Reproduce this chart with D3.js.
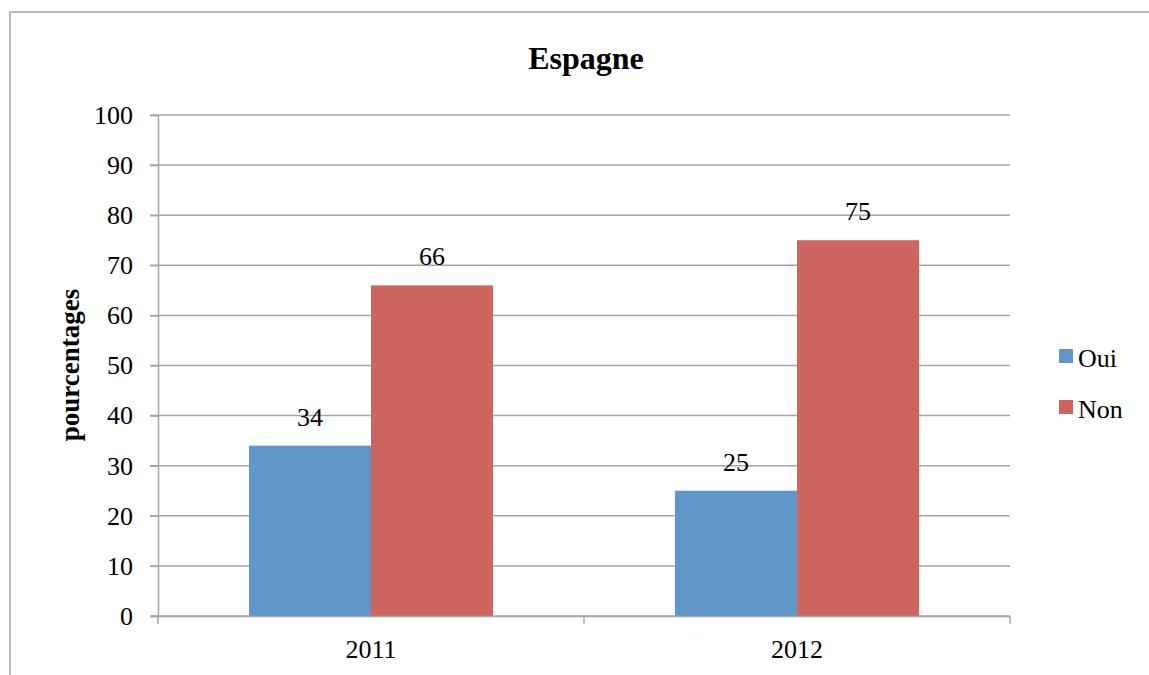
<!DOCTYPE html>
<html>
<head>
<meta charset="utf-8">
<script src="https://cdn.jsdelivr.net/npm/d3@7"></script>
<style>
  body { margin: 0; background: #fff; }
  svg text { font-family: "Liberation Serif", "Times New Roman", serif; fill: #000; }
</style>
</head>
<body>
<svg id="chart" width="1149" height="675"></svg>
<script>
// data
let years = ['2011', '2012'];
let series = ['Oui', 'Non'];
let oui = [34, 25];
let non = [66, 75];
let yTicks = [0, 10, 20, 30, 40, 50, 60, 70, 80, 90, 100];

let colors = { Oui: '#6196ca', Non: '#cd655e' };
let gridColor = '#a6a6a6';
let serif = '"Liberation Serif", "Times New Roman", serif';

let svg = d3.select('#chart');

// outer frame (runs off the picture at right and bottom)
svg.append('rect')
  .attr('x', 10).attr('y', 12)
  .attr('width', 1300).attr('height', 800)
  .attr('fill', 'none')
  .attr('stroke', gridColor)
  .attr('stroke-width', 1.5);

let margin = { left: 158, top: 115, right: 1010, bottom: 616 };

let x0 = d3.scaleBand()
  .domain(years)
  .range([margin.left, margin.right])
  .paddingInner(0.427)
  .paddingOuter(0.427 / 2);

let x1 = d3.scaleBand()
  .domain(series)
  .range([0, x0.bandwidth()]);

let y = d3.scaleLinear()
  .domain([0, 100])
  .range([margin.bottom, margin.top]);

// gridlines
svg.append('g')
  .selectAll('line')
  .data(yTicks)
  .enter()
  .append('line')
  .attr('x1', margin.left - 8)
  .attr('x2', margin.right)
  .attr('y1', d => y(d))
  .attr('y2', d => y(d))
  .attr('stroke', gridColor)
  .attr('stroke-width', 1.5);

// bars
let rows = years.map((yr, i) => ({ year: yr, values: [
  { key: 'Oui', value: oui[i] },
  { key: 'Non', value: non[i] }
]}));

let groups = svg.append('g')
  .selectAll('g')
  .data(rows)
  .enter()
  .append('g')
  .attr('transform', d => 'translate(' + x0(d.year) + ',0)');

groups.selectAll('rect')
  .data(d => d.values)
  .enter()
  .append('rect')
  .attr('x', d => x1(d.key))
  .attr('y', d => y(d.value))
  .attr('width', x1.bandwidth())
  .attr('height', d => y(0) - y(d.value))
  .attr('fill', d => colors[d.key]);

groups.selectAll('text')
  .data(d => d.values)
  .enter()
  .append('text')
  .attr('x', d => x1(d.key) + x1.bandwidth() / 2)
  .attr('y', d => y(d.value) - 20)
  .attr('text-anchor', 'middle')
  .style('font-family', serif)
  .style('font-size', '26px')
  .text(d => d.value);

// y axis
let yAxis = svg.append('g')
  .attr('transform', 'translate(' + margin.left + ',0)')
  .call(d3.axisLeft(y).tickValues(yTicks).tickSize(8).tickPadding(17));
yAxis.select('.domain').attr('stroke', gridColor).attr('stroke-width', 1.5);
yAxis.selectAll('.tick line').attr('stroke', gridColor).attr('stroke-width', 1.5);
yAxis.selectAll('.tick text')
  .style('font-family', serif)
  .style('font-size', '26px');

// x axis
let xAxis = svg.append('g')
  .attr('transform', 'translate(0,' + margin.bottom + ')')
  .call(d3.axisBottom(x0).tickSize(0).tickPadding(24));
xAxis.select('.domain').attr('stroke', gridColor).attr('stroke-width', 1.5);
xAxis.selectAll('.tick text')
  .style('font-family', serif)
  .style('font-size', '26px');

// category separators on the x axis
let seps = [margin.left, (margin.left + margin.right) / 2, margin.right];
xAxis.selectAll('.sep')
  .data(seps)
  .enter()
  .append('line')
  .attr('x1', d => d).attr('x2', d => d)
  .attr('y1', 0).attr('y2', 8)
  .attr('stroke', gridColor)
  .attr('stroke-width', 1.5);

// title
svg.append('text')
  .attr('x', 586).attr('y', 69)
  .attr('text-anchor', 'middle')
  .style('font-family', serif)
  .style('font-size', '32px')
  .style('font-weight', 'bold')
  .text('Espagne');

// y axis title
svg.append('text')
  .attr('transform', 'translate(79,365) rotate(-90)')
  .attr('text-anchor', 'middle')
  .style('font-family', serif)
  .style('font-size', '27px')
  .style('font-weight', 'bold')
  .text('pourcentages');

// legend
let legend = svg.append('g')
  .selectAll('g')
  .data(series)
  .enter()
  .append('g')
  .attr('transform', (d, i) => 'translate(1059,' + (349 + i * 51) + ')');

legend.append('rect')
  .attr('width', 14).attr('height', 14)
  .attr('fill', d => colors[d]);

legend.append('text')
  .attr('x', 19).attr('y', 18)
  .style('font-family', serif)
  .style('font-size', '26px')
  .text(d => d);
</script>
</body>
</html>
